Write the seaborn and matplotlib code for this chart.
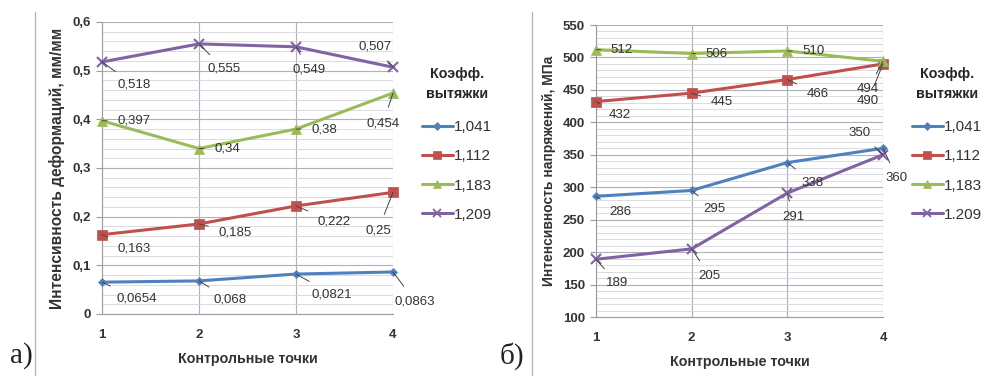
import matplotlib.pyplot as plt
import matplotlib.lines as mlines
import seaborn as sns
from matplotlib.ticker import MultipleLocator

# ---- data ----
points = [1, 2, 3, 4]

coef_left = ["1,041", "1,112", "1,183", "1,209"]
coef_right = ["1,041", "1,112", "1,183", "1.209"]

strain = {
    "1,041": [0.0654, 0.068, 0.0821, 0.0863],
    "1,112": [0.163, 0.185, 0.222, 0.25],
    "1,183": [0.397, 0.34, 0.38, 0.454],
    "1,209": [0.518, 0.555, 0.549, 0.507],
}
strain_text = {
    "1,041": ["0,0654", "0,068", "0,0821", "0,0863"],
    "1,112": ["0,163", "0,185", "0,222", "0,25"],
    "1,183": ["0,397", "0,34", "0,38", "0,454"],
    "1,209": ["0,518", "0,555", "0,549", "0,507"],
}

stress = {
    "1,041": [286, 295, 338, 360],
    "1,112": [432, 445, 466, 490],
    "1,183": [512, 506, 510, 494],
    "1.209": [189, 205, 291, 350],
}

# ---- label offsets (pixels, right / down) ----
strain_off = {
    "1,041": [(35, 16), (31, 19), (36, 20), (22, 29)],
    "1,112": [(32, 14), (36, 9), (38, 16), (-15, 38)],
    "1,183": [(32, 0), (28, 0), (28, 0), (-10, 30)],
    "1,209": [(32, 23), (25, 25), (13, 23), (-18, -21)],
}
stress_off = {
    "1,041": [(24, 16), (23, 19), (25, 20), (14, 30)],
    "1,112": [(24, 13), (30, 9), (30, 14), (-15, 37)],
    "1,183": [(26, 0), (25, 0), (26, 0), (-15, 28)],
    "1.209": [(21, 24), (18, 27), (6, 24), (-23, -22)],
}

colors = ["#4F81BD", "#C0504D", "#9BBB59", "#8064A2"]
markers = ["D", "s", "^", "x"]
msizes = [4.5, 7.5, 7, 7]

sns.set_style("white")
plt.rcParams["font.family"] = ["Liberation Sans", "DejaVu Sans"]

fig = plt.figure(figsize=(9.84, 3.76), dpi=100)
ax1 = fig.add_axes([102 / 984, 1 - 314 / 376, 291 / 984, 292 / 376])
ax2 = fig.add_axes([596 / 984, 1 - 317 / 376, 287 / 984, 292 / 376])


def draw(ax, names, values, texts, offsets, ylim, major, minor, ylabel, ylabel_size,
         legend_xy, fmt):
    for i, name in enumerate(names):
        sns.lineplot(
            x=points,
            y=values[name],
            ax=ax,
            color=colors[i],
            marker=markers[i],
            markersize=msizes[i],
            markeredgecolor=colors[i],
            markeredgewidth=1.5 if markers[i] == "x" else 0.5,
            linewidth=2.2,
            label=name,
            zorder=3,
            clip_on=False,
        )
        for j, v in enumerate(values[name]):
            dx, dy = offsets[name][j]
            ax.annotate(
                texts[name][j],
                xy=(points[j], v),
                xytext=(dx, -dy),
                textcoords="offset pixels",
                ha="center",
                va="center",
                fontsize=9.5,
                color="#333333",
                arrowprops=dict(arrowstyle="-", color="#444444", lw=0.7,
                                shrinkA=5, shrinkB=0),
                zorder=4,
                annotation_clip=False,
            )
    ax.set_xlim(1, 4)
    ax.set_ylim(*ylim)
    ax.set_xticks(points)
    ax.yaxis.set_major_locator(MultipleLocator(major))
    ax.yaxis.set_minor_locator(MultipleLocator(minor))
    ax.yaxis.set_major_formatter(plt.FuncFormatter(fmt))
    ax.grid(True, which="major", color="#b0b0b8", lw=0.8)
    ax.grid(True, which="minor", axis="y", color="#d4d4dc", lw=0.6)
    for s in ["top", "right"]:
        ax.spines[s].set_visible(False)
    for s in ["left", "bottom"]:
        ax.spines[s].set_color("#9a9aa4")
        ax.spines[s].set_linewidth(0.8)
    ax.tick_params(axis="y", which="major", left=True, length=4, color="#9a9aa4",
                   labelsize=9.5, pad=4)
    ax.tick_params(axis="x", which="major", bottom=False, labelsize=9.5, pad=7)
    ax.set_xlabel("Контрольные точки", fontsize=10.3, fontweight="bold",
                  color="#333333", labelpad=8)
    ax.set_ylabel(ylabel, fontsize=ylabel_size, fontweight="bold", color="#333333",
                  labelpad=5)
    handles = [
        mlines.Line2D([], [], color=colors[i], marker=markers[i],
                      markersize=msizes[i] * 0.85, lw=2.2,
                      markeredgewidth=1.3 if markers[i] == "x" else 0.5)
        for i in range(4)
    ]
    leg = ax.legend(
        handles, names, title="Коэфф.\nвытяжки", frameon=False,
        loc="upper left", bbox_to_anchor=legend_xy, bbox_transform=fig.transFigure,
        fontsize=11, title_fontsize=10.3, handlelength=2.0, handletextpad=0.1,
        labelspacing=1.0, borderaxespad=0, borderpad=0,
    )
    leg.get_title().set_fontweight("bold")
    leg.get_title().set_multialignment("center")
    leg.get_title().set_linespacing(1.5)
    leg._legend_box.sep = 14
    for t in leg.get_texts():
        t.set_color("#333333")
    for lab in ax.get_yticklabels() + ax.get_xticklabels():
        lab.set_fontweight("bold")
        lab.set_color("#333333")


draw(ax1, coef_left, strain, strain_text, strain_off, (0, 0.6), 0.1, 0.02,
     "Интенсивность деформаций, мм/мм", 11.2, (422 / 984, 1 - 67 / 376),
     lambda v, p: f"{v:g}".replace(".", ","))

stress_text = {k: [str(v) for v in vals] for k, vals in stress.items()}
draw(ax2, coef_right, stress, stress_text, stress_off, (100, 550), 50, 10,
     "Интенсивность напряжений, МПа", 10, (912 / 984, 1 - 67 / 376),
     lambda v, p: f"{v:g}")

# panel letters and separator lines
fig.text(10 / 984, 1 - 356 / 376, "а)", fontsize=21, family="Liberation Serif",
         va="center", ha="left", color="#222222")
fig.text(500 / 984, 1 - 356 / 376, "б)", fontsize=21, family="Liberation Serif",
         va="center", ha="left", color="#222222")
for xp in (35, 532):
    fig.add_artist(mlines.Line2D([xp / 984, xp / 984], [0, 1 - 12 / 376],
                                 color="#b8b8b8", lw=1))

fig.savefig("out.png", dpi=100)
